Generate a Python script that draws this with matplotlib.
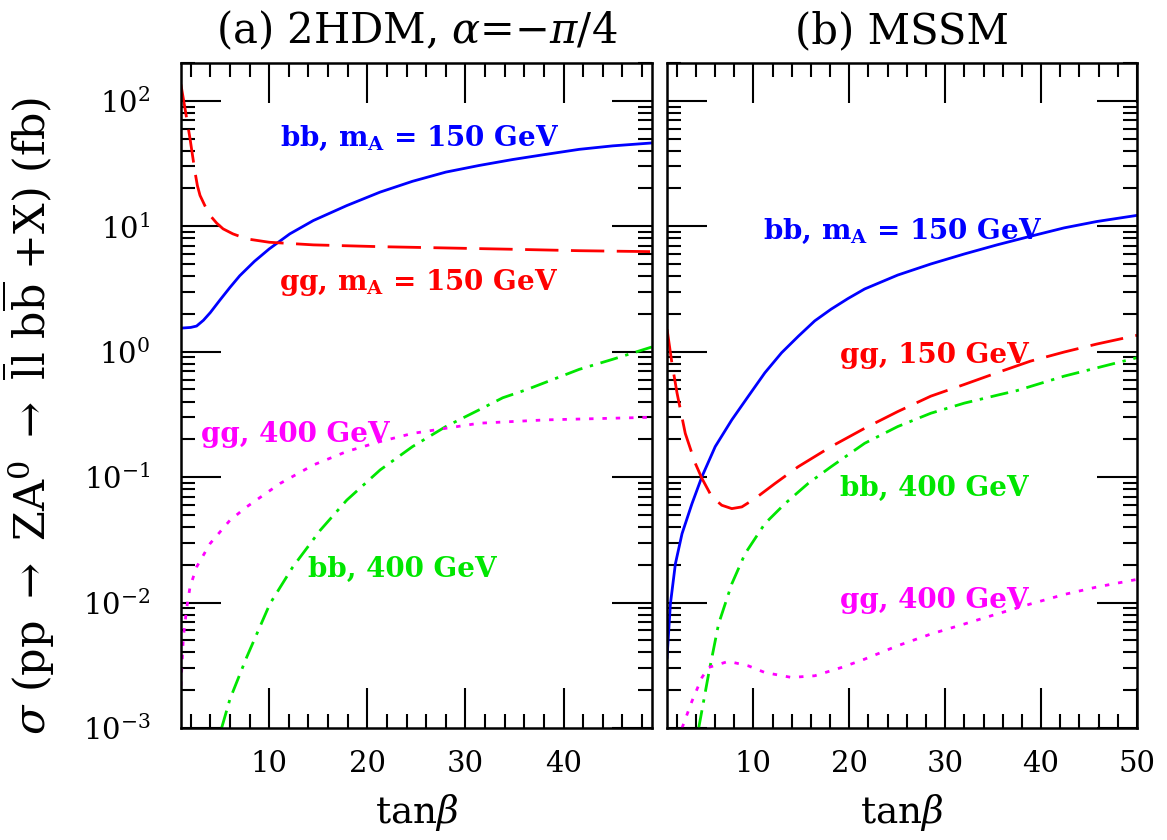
import numpy as np
import matplotlib
matplotlib.use("Agg")
import matplotlib.pyplot as plt
from matplotlib.ticker import MultipleLocator, LogLocator, NullFormatter

plt.rcParams['font.family'] = 'DejaVu Serif'
plt.rcParams['mathtext.fontset'] = 'dejavuserif'

# ---- panel (a): 2HDM, alpha = -pi/4  (sigma in fb vs tan beta)
a_bb150_x = [1.0, 2.0, 2.6, 3.3, 4.0, 5.0, 6.0, 7.0, 8.5, 10.0, 12.1, 14.5, 17.9,
             21.3, 24.6, 28.0, 31.4, 34.8, 38.2, 41.6, 45.0, 49.0]
a_bb150_y = [1.54, 1.56, 1.60, 1.78, 2.05, 2.59, 3.25, 4.03, 5.25, 6.59, 8.69, 11.1,
             14.6, 18.7, 22.8, 27.0, 30.5, 34.0, 37.4, 41.0, 43.7, 46.1]

a_gg150_x = [1.0, 1.42, 1.93, 2.44, 2.68, 2.95, 3.46, 3.97, 4.64, 5.3, 6.3, 7.7,
             10.0, 14.5, 21.3, 28.0, 34.8, 41.6, 49.0]
a_gg150_y = [135.0, 86.9, 50.0, 27.0, 21.1, 17.6, 14.5, 12.2, 10.6, 9.53, 8.69, 7.93,
             7.45, 7.10, 6.87, 6.71, 6.55, 6.38, 6.27]

a_bb400_x = [5.15, 6.0, 7.7, 10.07, 12.4, 15.2, 17.9, 21.3, 24.6, 28.0, 31.4,
             33.8, 36.2, 41.6, 45.0, 49.0]
a_bb400_y = [1.0e-3, 1.70e-3, 3.66e-3, 9.77e-3, 1.92e-2, 3.77e-2, 6.55e-2, 0.114,
             0.175, 0.253, 0.344, 0.429, 0.497, 0.723, 0.869, 1.09]

a_gg400_x = [1.0, 1.25, 1.6, 1.93, 2.6, 3.97, 6.0, 7.7, 11.1, 14.5, 17.9, 21.3,
             24.6, 28.0, 31.4, 38.2, 49.0]
a_gg400_y = [2.17e-3, 5.27e-3, 9.12e-3, 1.33e-2, 1.92e-2, 2.95e-2, 4.53e-2, 5.79e-2,
             8.89e-2, 0.125, 0.160, 0.192, 0.223, 0.245, 0.269, 0.286, 0.300]

# ---- panel (b): MSSM
b_bb150_x = [1.0, 1.35, 1.87, 2.56, 3.6, 4.64, 6.02, 7.75, 9.48, 11.2, 12.94, 14.7,
             16.4, 18.1, 19.86, 21.6, 25.05, 28.5, 32.0, 35.4, 38.9, 42.4, 45.8, 50.0]
b_bb150_y = [3.66e-3, 9.77e-3, 2.04e-2, 3.54e-2, 6.15e-2, 0.101, 0.175, 0.286, 0.442,
             0.679, 0.98, 1.33, 1.76, 2.18, 2.65, 3.16, 4.08, 5.0, 6.01, 7.10, 8.32,
             9.70, 10.9, 12.2]

b_gg150_x = [1.0, 1.5, 2.04, 2.9, 3.94, 4.64, 5.67, 6.7, 7.75, 8.8, 10.17, 12.25,
             14.67, 18.1, 21.6, 25.05, 28.5, 32.0, 35.4, 38.9, 42.4, 45.8, 50.0]
b_gg150_y = [1.51, 0.817, 0.468, 0.223, 0.129, 0.0975, 0.0697, 0.0597, 0.0561,
             0.0579, 0.0675, 0.0889, 0.121, 0.175, 0.245, 0.333, 0.442, 0.548,
             0.679, 0.841, 0.993, 1.15, 1.35]

b_bb400_x = [4.3, 5.33, 6.37, 7.75, 9.13, 11.2, 13.3, 15.7, 18.1, 21.6, 25.05,
             28.5, 32.0, 35.8, 37.5, 42.4, 50.0]
b_bb400_y = [1.0e-3, 2.69e-3, 6.75e-3, 1.41e-2, 2.45e-2, 4.26e-2, 6.15e-2, 8.89e-2,
             0.121, 0.186, 0.253, 0.323, 0.389, 0.457, 0.49, 0.638, 0.895]

b_gg400_x = [2.56, 3.6, 4.64, 5.33, 7.4, 9.48, 11.2, 13.98, 16.4, 19.2, 21.6, 25.05,
             28.5, 32.0, 35.4, 38.9, 42.4, 45.8, 50.0]
b_gg400_y = [1.0e-3, 1.64e-3, 2.53e-3, 3.04e-3, 3.40e-3, 3.13e-3, 2.77e-3, 2.53e-3,
             2.61e-3, 3.04e-3, 3.54e-3, 4.53e-3, 5.61e-3, 6.75e-3, 8.11e-3, 9.75e-3,
             1.16e-2, 1.33e-2, 1.53e-2]

BLUE, RED, GREEN, MAGENTA = '#0000ff', '#ff0000', '#00e600', '#ff00ff'
dashed = (0, (12, 4.5))
dotted = (0, (1.6, 3.2))
dashdot = (0, (6.5, 2.8, 1.2, 2.8))
LW = 2.0

fig = plt.figure(figsize=(11.67, 8.4), dpi=100)
ax1 = fig.add_axes([0.155, 0.1333, 0.4036, 0.7917])
ax2 = fig.add_axes([0.5716, 0.1333, 0.4027, 0.7917])

ax1.plot(a_bb150_x, a_bb150_y, color=BLUE, lw=LW, ls='-')
ax1.plot(a_gg150_x, a_gg150_y, color=RED, lw=LW, ls=dashed)
ax1.plot(a_bb400_x, a_bb400_y, color=GREEN, lw=LW, ls=dashdot)
ax1.plot(a_gg400_x, a_gg400_y, color=MAGENTA, lw=LW, ls=dotted)

ax2.plot(b_bb150_x, b_bb150_y, color=BLUE, lw=LW, ls='-')
ax2.plot(b_gg150_x, b_gg150_y, color=RED, lw=LW, ls=dashed)
ax2.plot(b_bb400_x, b_bb400_y, color=GREEN, lw=LW, ls=dashdot)
ax2.plot(b_gg400_x, b_gg400_y, color=MAGENTA, lw=LW, ls=dotted)

for ax in (ax1, ax2):
    ax.set_yscale('log')
    ax.set_ylim(1e-3, 2e2)
    ax.xaxis.set_major_locator(MultipleLocator(10))
    ax.xaxis.set_minor_locator(MultipleLocator(2))
    ax.yaxis.set_major_locator(LogLocator(base=10, numticks=20))
    ax.yaxis.set_minor_locator(LogLocator(base=10, subs=np.arange(2, 10), numticks=20))
    ax.yaxis.set_minor_formatter(NullFormatter())
    ax.tick_params(which='both', direction='in', top=True, right=True, width=1.5)
    ax.tick_params(which='major', length=29, labelsize=21)
    ax.tick_params(which='minor', length=10)
    ax.tick_params(axis='x', which='major', pad=16)
    ax.tick_params(axis='y', which='major', pad=22)
    for s in ax.spines.values():
        s.set_linewidth(1.8)
    ax.set_xlabel(r'tan$\beta$', fontsize=27, labelpad=10)

ax1.set_xlim(1, 49)
ax2.set_xlim(1, 50)
ax2.tick_params(labelleft=False)

ax1.set_title(r'(a) 2HDM, $\alpha$=$-\pi$/4', fontsize=30, pad=14)
ax2.set_title('(b) MSSM', fontsize=30, pad=14)

ax1.set_ylabel(r'$\sigma$ (pp $\rightarrow$ ZA$^{0}$ $\rightarrow$ '
               r'$\overline{\mathrm{l}}$l b$\overline{\mathrm{b}}$ +X) (fb)',
               fontsize=31)
ax1.yaxis.set_label_coords(-0.262, 0.47)

fs = 20
kw = dict(fontsize=fs, fontweight='bold', ha='left', va='baseline')
ax1.text(0.210, 0.875, r'bb, m$_\mathbf{A}$ = 150 GeV', color=BLUE, transform=ax1.transAxes, **kw)
ax1.text(0.208, 0.659, r'gg, m$_\mathbf{A}$ = 150 GeV', color=RED, transform=ax1.transAxes, **kw)
ax1.text(0.042, 0.4305, 'gg, 400 GeV', color=MAGENTA, transform=ax1.transAxes, **kw)
ax1.text(0.270, 0.2275, 'bb, 400 GeV', color=GREEN, transform=ax1.transAxes, **kw)

ax2.text(0.204, 0.735, r'bb, m$_\mathbf{A}$ = 150 GeV', color=BLUE, transform=ax2.transAxes, **kw)
ax2.text(0.368, 0.549, 'gg, 150 GeV', color=RED, transform=ax2.transAxes, **kw)
ax2.text(0.368, 0.349, 'bb, 400 GeV', color=GREEN, transform=ax2.transAxes, **kw)
ax2.text(0.368, 0.180, 'gg, 400 GeV', color=MAGENTA, transform=ax2.transAxes, **kw)

fig.savefig('out.png', dpi=100)
